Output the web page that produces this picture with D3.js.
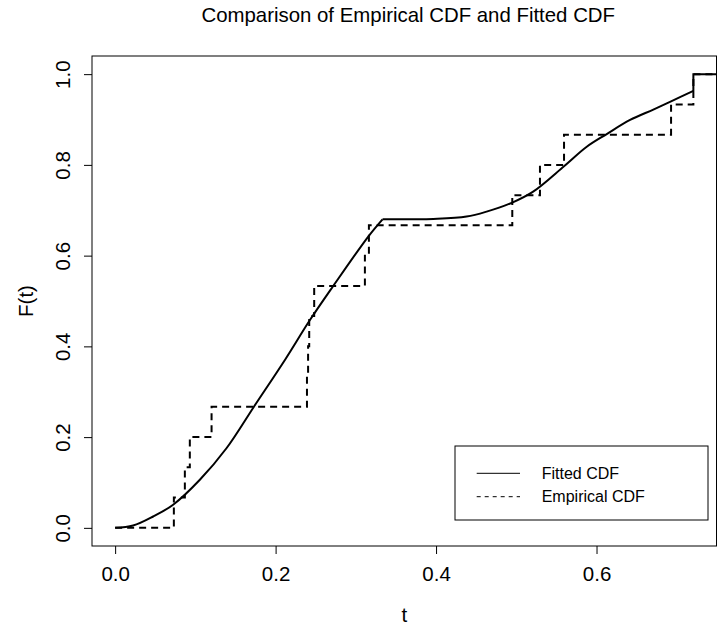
<!DOCTYPE html>
<html>
<head>
<meta charset="utf-8">
<script src="https://cdn.jsdelivr.net/npm/d3@7"></script>
<style>
  body { margin: 0; background: #fff; }
  svg text { font-family: "Liberation Sans", Arial, Helvetica, sans-serif; fill: #000; }
</style>
</head>
<body>
<div id="chart"></div>
<script>
// Empirical CDF: jump times (each jump is 1/15)
const empTimes = [0.0732, 0.0869, 0.0931, 0.1202, 0.2391, 0.2405, 0.2419, 0.2481,
                  0.3113, 0.3163, 0.4950, 0.5295, 0.5595, 0.6929, 0.7207]
const empLevels = [0.0667, 0.1333, 0.2000, 0.2667, 0.3333, 0.4000, 0.4667, 0.5333,
                   0.6000, 0.6667, 0.7333, 0.8000, 0.8667, 0.9333, 1.0000]

// Fitted CDF (two smooth pieces, kink at t = 1/3)
const fitPiece1 = [
  {t: 0.0000, F: 0.000}, {t: 0.0224, F: 0.005}, {t: 0.0474, F: 0.025},
  {t: 0.0723, F: 0.051}, {t: 0.1056, F: 0.106}, {t: 0.1390, F: 0.176},
  {t: 0.1730, F: 0.267}, {t: 0.2116, F: 0.370}, {t: 0.2428, F: 0.458},
  {t: 0.2718, F: 0.533}, {t: 0.3155, F: 0.642}, {t: 0.3333, F: 0.680}
]
const fitPiece2 = [
  {t: 0.3333, F: 0.680}, {t: 0.3966, F: 0.681}, {t: 0.4380, F: 0.686},
  {t: 0.4630, F: 0.697}, {t: 0.4950, F: 0.717}, {t: 0.5210, F: 0.741},
  {t: 0.5595, F: 0.797}, {t: 0.5878, F: 0.840}, {t: 0.6127, F: 0.868},
  {t: 0.6418, F: 0.899}, {t: 0.6708, F: 0.922}, {t: 0.6929, F: 0.940},
  {t: 0.7207, F: 0.963}
]

const xTicks = [0, 0.2, 0.4, 0.6]
const yTicks = [0, 0.2, 0.4, 0.6, 0.8, 1.0]
const legendLabels = ['Fitted CDF', 'Empirical CDF']

const width = 728
const height = 626
const margins = { top: 56, right: 11.5, bottom: 80, left: 92 }

const svg = d3.select('#chart').append('svg')
    .attr('width', width)
    .attr('height', height)

// R style 4% padding on both axes
const tMax = d3.max(empTimes)
const xPad = 0.04 * tMax
const xScale = d3.scaleLinear()
    .domain([0 - xPad, tMax + xPad])
    .range([margins.left, width - margins.right])
const yScale = d3.scaleLinear()
    .domain([-0.04, 1.04])
    .range([height - margins.bottom, margins.top])

const tEnd = xScale.domain()[1]

// Step path for the empirical CDF, starting at (0, 0)
let empPts = [{t: 0, F: 0}]
empTimes.forEach((t, i) => empPts.push({t: t, F: empLevels[i]}))
empPts.push({t: tEnd, F: 1})

const stepLine = d3.line()
    .x(d => xScale(d.t))
    .y(d => yScale(d.F))
    .curve(d3.curveStepAfter)

svg.append('path')
    .datum(empPts)
    .attr('d', stepLine)
    .attr('fill', 'none')
    .attr('stroke', '#000')
    .attr('stroke-width', 2)
    .attr('stroke-dasharray', '7,5')

// Fitted CDF
const smooth = d3.line()
    .x(d => xScale(d.t))
    .y(d => yScale(d.F))
    .curve(d3.curveCatmullRom.alpha(0.5))

const straight = d3.line()
    .x(d => xScale(d.t))
    .y(d => yScale(d.F))

const last = fitPiece2[fitPiece2.length - 1]
const fitTail = [last, {t: last.t, F: 1}, {t: tEnd, F: 1}]

;[fitPiece1, fitPiece2].forEach(p => {
    svg.append('path')
        .datum(p)
        .attr('d', smooth)
        .attr('fill', 'none')
        .attr('stroke', '#000')
        .attr('stroke-width', 2)
        .attr('stroke-linejoin', 'round')
})
svg.append('path')
    .datum(fitTail)
    .attr('d', straight)
    .attr('fill', 'none')
    .attr('stroke', '#000')
    .attr('stroke-width', 2)

// Box
svg.append('rect')
    .attr('x', margins.left)
    .attr('y', margins.top)
    .attr('width', width - margins.left - margins.right)
    .attr('height', height - margins.top - margins.bottom)
    .attr('fill', 'none')
    .attr('stroke', '#000')
    .attr('stroke-width', 1)

// Axes
const xAxis = svg.append('g')
    .attr('class', 'x-axis')
    .attr('transform', 'translate(0,' + (height - margins.bottom) + ')')
    .call(d3.axisBottom(xScale).tickValues(xTicks).tickFormat(d3.format('.1f'))
        .tickSize(8).tickSizeOuter(0).tickPadding(12.5))
xAxis.select('.domain').remove()
xAxis.selectAll('text').style('font-size', '20.5px')

const yAxis = svg.append('g')
    .attr('class', 'y-axis')
    .attr('transform', 'translate(' + margins.left + ',0)')
    .call(d3.axisLeft(yScale).tickValues(yTicks).tickFormat(d3.format('.1f'))
        .tickSize(8).tickSizeOuter(0))
yAxis.select('.domain').remove()
yAxis.selectAll('text')
    .attr('x', 0)
    .attr('y', -22)
    .attr('dy', 0)
    .attr('transform', 'rotate(-90)')
    .attr('text-anchor', 'middle')
    .style('font-size', '20.5px')

// Titles
const plotMidX = (margins.left + width - margins.right) / 2
const plotMidY = (margins.top + height - margins.bottom) / 2

svg.append('text')
    .attr('x', plotMidX + 4)
    .attr('y', 22)
    .attr('text-anchor', 'middle')
    .style('font-size', '20.4px')
    .text('Comparison of Empirical CDF and Fitted CDF')

svg.append('text')
    .attr('x', plotMidX)
    .attr('y', 622)
    .attr('text-anchor', 'middle')
    .style('font-size', '20.5px')
    .text('t')

svg.append('text')
    .attr('transform', 'translate(33,' + plotMidY + ') rotate(-90)')
    .attr('text-anchor', 'middle')
    .style('font-size', '20.5px')
    .text('F(t)')

// Legend
const legend = svg.append('g').attr('transform', 'translate(455,446)')
legend.append('rect')
    .attr('width', 253)
    .attr('height', 74)
    .attr('fill', '#fff')
    .attr('stroke', '#000')
    .attr('stroke-width', 1)

legendLabels.forEach((lab, i) => {
    const y = 27.3 + i * 23.4
    legend.append('line')
        .attr('x1', 21.7).attr('x2', 65)
        .attr('y1', y).attr('y2', y)
        .attr('stroke', '#000')
        .attr('stroke-width', 1)
        .attr('stroke-dasharray', i == 1 ? '4,4' : null)
    legend.append('text')
        .attr('x', 86.7)
        .attr('y', y)
        .attr('dy', '0.35em')
        .style('font-size', '16px')
        .text(lab)
})
</script>
</body>
</html>
